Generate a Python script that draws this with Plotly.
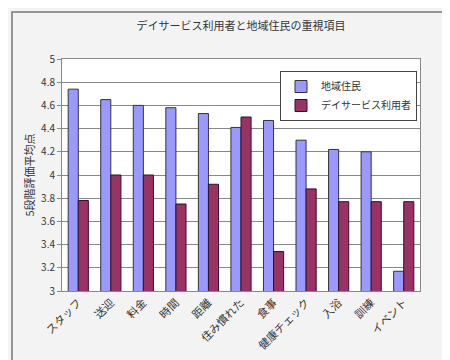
import plotly.graph_objects as go

categories = ["スタッフ", "送迎", "料金", "時間", "距離", "住み慣れた", "食事", "健康チェック", "入浴", "訓練", "イベント"]
residents = [4.74, 4.65, 4.60, 4.58, 4.53, 4.41, 4.47, 4.30, 4.22, 4.20, 3.17]
users = [3.78, 4.00, 4.00, 3.75, 3.92, 4.50, 3.34, 3.88, 3.77, 3.77, 3.77]

FONT = "Noto Sans CJK JP"
W, H = 450, 360
L, R, T, B = 54, 38, 51, 77

fig = go.Figure()
fig.add_trace(go.Bar(name="地域住民", x=categories, y=residents,
                     marker=dict(color="#9999ff", line=dict(color="#333344", width=1))))
fig.add_trace(go.Bar(name="デイサービス利用者", x=categories, y=users,
                     marker=dict(color="#993366", line=dict(color="#331122", width=1))))

pw = W - L - R
ph = H - T - B
fig.update_layout(
    width=W, height=H,
    margin=dict(l=L, r=R, t=T, b=B),
    paper_bgcolor="#f3f3f3",
    plot_bgcolor="white",
    barmode="group",
    bargap=0.38,
    bargroupgap=0,
    font=dict(family=FONT, size=10, color="#333333"),
    title=dict(text="デイサービス利用者と地域住民の重視項目", x=0.5, xref="paper",
               y=1 - 18 / H, yanchor="middle", font=dict(size=11, color="#333333")),
    legend=dict(x=(272 - L) / pw, y=(283 - 63) / ph, xanchor="left", yanchor="top",
                bgcolor="white", bordercolor="#444444", borderwidth=1,
                font=dict(size=10), tracegroupgap=0, itemwidth=30,
                entrywidth=0),
    yaxis=dict(range=[3, 5], dtick=0.2, showgrid=True, gridcolor="#888888", gridwidth=1,
               showline=True, linecolor="#888888", mirror=True, ticks="outside",
               ticklen=4, tickcolor="#888888",
               title=dict(text="5段階評価平均点", font=dict(size=11), standoff=4),
               tickfont=dict(size=10)),
    xaxis=dict(tickangle=-45, showline=True, linecolor="#888888", mirror=True,
               tickfont=dict(size=11), ticks=""),
    shapes=[dict(type="rect", xref="paper", yref="paper",
                 x0=(4 - L) / pw, x1=(435 - L) / pw,
                 y0=(283 - 355) / ph, y1=(283 - 4) / ph,
                 line=dict(color="#777777", width=1.5), layer="below")],
)

fig.write_html("out.html")
